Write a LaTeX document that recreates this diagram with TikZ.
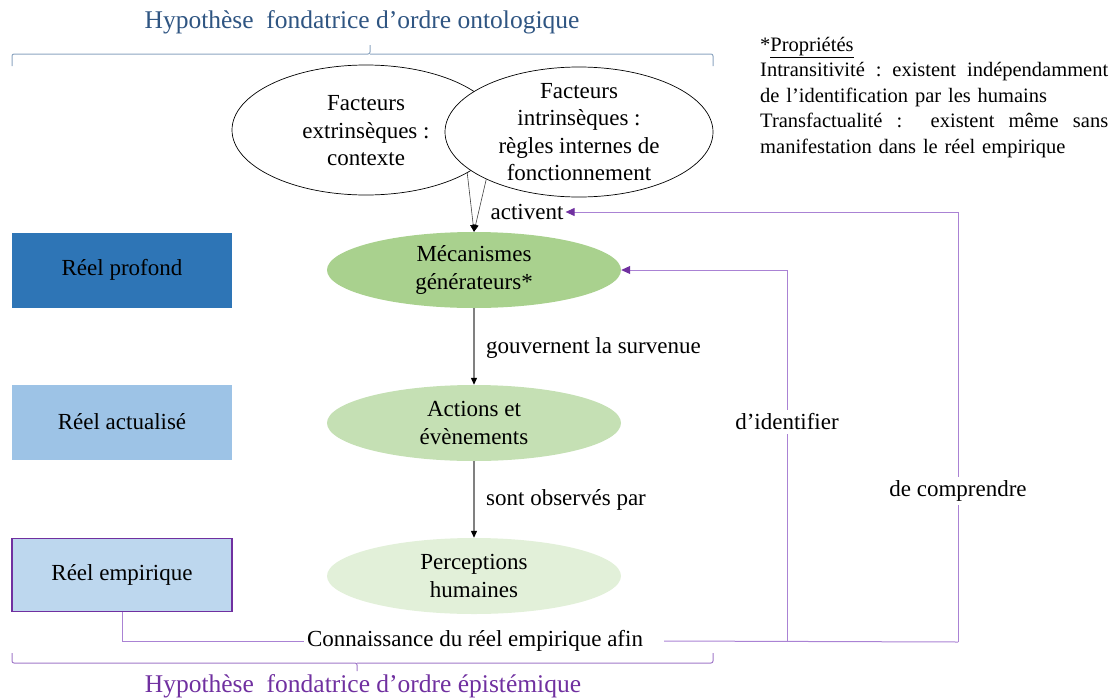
\documentclass[tikz,border=0pt]{standalone}
\usepackage{fontspec}
\setmainfont{Liberation Serif}
\usetikzlibrary{shapes.geometric,arrows.meta}
\definecolor{deepblue}{RGB}{46,117,182}
\definecolor{midblue}{RGB}{157,195,230}
\definecolor{paleblue}{RGB}{189,215,238}
\definecolor{green1}{RGB}{169,209,142}
\definecolor{green2}{RGB}{197,224,180}
\definecolor{green3}{RGB}{226,240,217}
\definecolor{darkpurple}{RGB}{112,48,160}
\definecolor{linepurple}{RGB}{170,130,212}
\definecolor{bracepurple}{RGB}{160,120,200}
\definecolor{braceblue}{RGB}{140,165,192}
\definecolor{titleblue}{RGB}{47,85,130}
\begin{document}
\begin{tikzpicture}[x=1pt,y=-1pt,
  txt/.style={font=\fontsize{23}{27.5}\selectfont, align=center, inner sep=0pt},
  oval/.style={ellipse, draw=black, line width=0.7pt, fill=white, minimum width=268pt, minimum height=130pt, inner sep=0pt},
  gov/.style={ellipse, minimum width=294pt, minimum height=76pt, inner sep=0pt},
  level/.style={rectangle, minimum width=220pt, minimum height=75pt, inner sep=0pt, font=\fontsize{23}{27.5}\selectfont},
  lbl/.style={font=\fontsize{23}{27.5}\selectfont, inner sep=2pt},
  blackarrow/.style={-{Triangle[length=7pt,width=6pt,black]}},
  pline/.style={draw=linepurple, line width=1pt},
  parrow/.style={pline, -{Triangle[length=9pt,width=8pt,darkpurple]}},
  whitelbl/.style={lbl, fill=white, inner sep=4pt}
]
\useasboundingbox (0,0) rectangle (1116,699);

% titles and braces
\node[font=\fontsize{25.5}{30}\selectfont, text=titleblue, inner sep=0pt] (toptitle) at (362,22) {Hypothèse\ \ fondatrice d’ordre ontologique};
\draw[braceblue, line width=1pt, rounded corners=2pt] (12,66) |- (370,54) -- (370,45);
\draw[braceblue, line width=1pt, rounded corners=2pt] (370,54) -| (713,66);

\node[font=\fontsize{25.5}{30}\selectfont, text=darkpurple, inner sep=0pt] (bottitle) at (363,686) {Hypothèse\ \ fondatrice d’ordre épistémique};
\draw[bracepurple, line width=1pt, rounded corners=2pt] (12,653) |- (357,663) -- (357,671);
\draw[bracepurple, line width=1pt, rounded corners=2pt] (357,663) -| (713,653);

% factor ellipses
\node[oval] (e1) at (366,130) {};
\node[txt] (e1t) at (366,131) {Facteurs\\extrinsèques :\\contexte};
\node[oval] (e2) at (579,132) {};
\node[txt] (e2t) at (579,132) {Facteurs\\intrinsèques :\\règles internes de\\fonctionnement};

% level ellipses
\node[gov, fill=green1, label={[txt]center:Mécanismes\\générateurs*}] (mec) at (474,270) {};
\node[gov, fill=green2, label={[txt]center:Actions et\\évènements}] (act) at (474,423) {};
\node[gov, fill=green3, label={[txt]center:Perceptions\\humaines}] (per) at (474,576) {};

% arrows between
\draw[black!75, line width=0.6pt, blackarrow] (e1.-23) -- (mec.north);
\draw[black!75, line width=0.6pt, blackarrow] (e2.-153.6) -- (mec.north);
\draw[gray, line width=1.2pt, blackarrow] (mec.south) -- (act.north);
\draw[gray, line width=1.2pt, blackarrow] (act.south) -- (per.north);

\node[lbl] (actl) at (527,212) {activent};
\node[lbl, anchor=west, inner sep=0pt] (govl) at (486,348) {gouvernent la survenue};
\node[lbl, anchor=west, inner sep=0pt] (obsl) at (486,500) {sont observés par};

% level boxes
\node[level, fill=deepblue] (prof) at (122,270) {Réel profond};
\node[level, fill=midblue] (actu) at (122,422) {Réel actualisé};
\node[level, fill=paleblue, draw=darkpurple, line width=1.2pt, minimum height=73pt] (emp) at (122,575) {Réel empirique};

% knowledge loop
\node[lbl, fill=white, inner sep=3pt] (conn) at (475,641) {Connaissance du réel empirique afin};
\coordinate (c1) at (787,642);
\coordinate (c2) at (958,642);
\draw[pline] (emp.south) |- (conn.west);
\draw[pline] (conn.east) ++(18,0) coordinate (cr) (cr) -- (c2);
\draw[parrow] (c1) |- (mec.east);
\draw[parrow] (c2) |- (actl.east);
\node[whitelbl] (ident) at (787,422) {d’identifier};
\node[whitelbl] (compr) at (958,491) {de comprendre};

% properties
\node[anchor=north west, inner sep=0pt, text width=356pt, font=\fontsize{20.5}{25.5}\selectfont, align=left] (props) at (760,37) {%
*\underline{Propriétés}\\
\leavevmode\hbox to 348pt{Intransitivité\hfill:\hfill existent\hfill indépendamment}\\
de l’identification par les humains\\
\leavevmode\hbox to 348pt{Transfactualité\hfill:\hfill\hfill existent\hfill même\hfill sans}\\
manifestation dans le réel empirique};
\end{tikzpicture}
\end{document}
